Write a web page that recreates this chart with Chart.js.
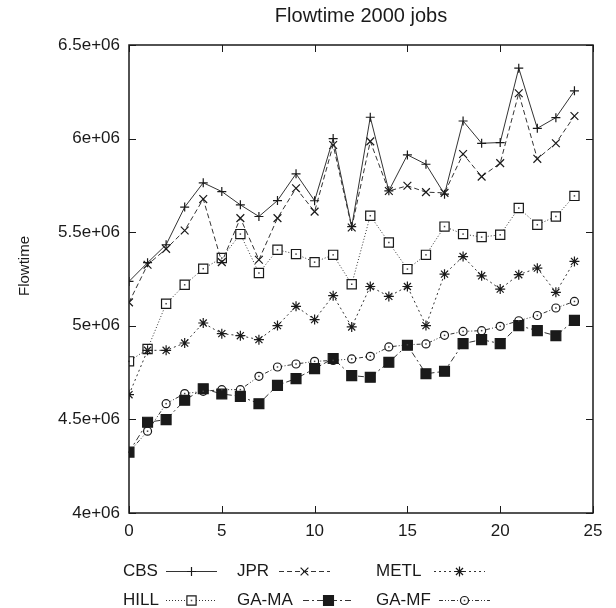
<!DOCTYPE html>
<html>
<head>
<meta charset="utf-8">
<title>Flowtime 2000 jobs</title>
<script src="https://cdn.jsdelivr.net/npm/chart.js@4.4.1/dist/chart.umd.min.js"></script>
<style>
    body { margin: 0; background: #fff; }
    canvas { display: block; }
</style>
</head>
<body>
<canvas id="flowChart" width="616" height="608"></canvas>
<script>
// run number on the x axis
const runs = [0, 1, 2, 3, 4, 5, 6, 7, 8, 9, 10, 11, 12, 13, 14, 15, 16, 17, 18, 19, 20, 21, 22, 23, 24];

// flowtime per heuristic
const cbs  = [5237000, 5337000, 5433000, 5634000, 5764000, 5717000, 5646000, 5584000, 5669000, 5812000, 5668000, 6000000, 5530000, 6114000, 5721000, 5913000, 5863000, 5703000, 6094000, 5975000, 5979000, 6376000, 6055000, 6112000, 6255000];
const jpr  = [5125000, 5326000, 5411000, 5509000, 5677000, 5340000, 5575000, 5353000, 5575000, 5735000, 5610000, 5966000, 5525000, 5985000, 5720000, 5748000, 5714000, 5710000, 5918000, 5797000, 5869000, 6242000, 5892000, 5975000, 6121000];
const metl = [4632000, 4869000, 4869000, 4908000, 5015000, 4958000, 4947000, 4926000, 5001000, 5104000, 5033000, 5161000, 4994000, 5210000, 5157000, 5210000, 5001000, 5276000, 5370000, 5267000, 5196000, 5273000, 5308000, 5179000, 5344000];
const hill = [4810000, 4876000, 5118000, 5219000, 5305000, 5362000, 5490000, 5282000, 5406000, 5383000, 5340000, 5379000, 5222000, 5588000, 5445000, 5303000, 5379000, 5530000, 5490000, 5474000, 5486000, 5629000, 5540000, 5584000, 5694000];
const gaMA = [4325000, 4485000, 4499000, 4602000, 4664000, 4636000, 4623000, 4584000, 4682000, 4718000, 4771000, 4825000, 4734000, 4725000, 4805000, 4896000, 4744000, 4757000, 4905000, 4926000, 4905000, 5001000, 4974000, 4947000, 5029000];
const gaMF = [4325000, 4437000, 4584000, 4638000, 4650000, 4659000, 4659000, 4730000, 4780000, 4796000, 4810000, 4815000, 4823000, 4837000, 4887000, 4899000, 4903000, 4949000, 4970000, 4974000, 4997000, 5027000, 5055000, 5095000, 5130000];

const seriesNames = ['CBS', 'JPR', 'METL', 'HILL', 'GA-MA', 'GA-MF'];
const xTickLabels = ['0', '5', '10', '15', '20', '25'];
const yTickLabels = ['4e+06', '4.5e+06', '5e+06', '5.5e+06', '6e+06', '6.5e+06'];

const INK = '#1a1a1a';
const FONT = '"Liberation Sans", Arial, sans-serif';
const NONE = 'rgba(0,0,0,0)';

const styles = [
    { dash: [],                 pointStyle: 'cross',    radius: 4.5, fill: NONE,   dot: false },
    { dash: [5, 3],             pointStyle: 'crossRot', radius: 5.5, fill: NONE,   dot: false },
    { dash: [2, 3],             pointStyle: 'star',     radius: 5,   fill: NONE,   dot: false },
    { dash: [1, 2],             pointStyle: 'rect',     radius: 6.5, fill: '#fff', dot: true },
    { dash: [6, 3, 2, 3],       pointStyle: 'rect',     radius: 7,   fill: INK,    dot: false },
    { dash: [4, 2, 1, 2, 1, 2], pointStyle: 'circle',   radius: 4,   fill: '#fff', dot: true }
];

const allValues = [cbs, jpr, metl, hill, gaMA, gaMF];

let datasets = allValues.map((values, i) => ({
    label: seriesNames[i],
    data: runs.map((r, k) => ({ x: r, y: values[k] })),
    borderColor: '#333',
    borderWidth: 1,
    borderDash: styles[i].dash,
    pointStyle: styles[i].pointStyle,
    pointRadius: styles[i].radius,
    pointBorderColor: INK,
    pointBackgroundColor: styles[i].fill,
    pointBorderWidth: 1.2,
    centerDot: styles[i].dot,
    tension: 0,
    fill: false
}));

function drawDot(ctx, x, y) {
    ctx.fillStyle = '#444';
    ctx.fillRect(x - 0.75, y - 0.75, 1.5, 1.5);
}

// small dot inside the hollow markers
const dotPlugin = {
    id: 'centerDots',
    afterDatasetsDraw(chart) {
        const ctx = chart.ctx;
        ctx.save();
        chart.data.datasets.forEach((ds, i) => {
            if (!ds.centerDot) return;
            chart.getDatasetMeta(i).data.forEach(pt => drawDot(ctx, pt.x, pt.y));
        });
        ctx.restore();
    }
};

// frame with inward ticks on all four sides
const framePlugin = {
    id: 'frame',
    afterDatasetsDraw(chart) {
        const { ctx, chartArea: a, scales } = chart;
        ctx.save();
        ctx.strokeStyle = INK;
        ctx.lineWidth = 1;
        ctx.setLineDash([]);
        const tick = 7;
        scales.x.ticks.forEach(t => {
            let px = Math.round(scales.x.getPixelForValue(t.value)) + 0.5;
            ctx.beginPath();
            ctx.moveTo(px, a.bottom); ctx.lineTo(px, a.bottom - tick);
            ctx.moveTo(px, a.top); ctx.lineTo(px, a.top + tick);
            ctx.stroke();
        });
        scales.y.ticks.forEach(t => {
            let py = Math.round(scales.y.getPixelForValue(t.value)) + 0.5;
            ctx.beginPath();
            ctx.moveTo(a.left, py); ctx.lineTo(a.left + tick, py);
            ctx.moveTo(a.right, py); ctx.lineTo(a.right - tick, py);
            ctx.stroke();
        });
        ctx.lineWidth = 1.5;
        ctx.strokeRect(a.left, a.top, a.right - a.left, a.bottom - a.top);
        ctx.restore();
    }
};

// plot title (centred over the plot area) and y axis caption
const captionPlugin = {
    id: 'captions',
    afterDraw(chart) {
        const { ctx, chartArea: a } = chart;
        ctx.save();
        ctx.fillStyle = INK;
        ctx.textAlign = 'center';
        ctx.textBaseline = 'middle';
        ctx.font = '20px ' + FONT;
        ctx.fillText('Flowtime 2000 jobs', (a.left + a.right) / 2, 16);
        ctx.translate(25, 266);
        ctx.rotate(-Math.PI / 2);
        ctx.font = '15px ' + FONT;
        ctx.fillText('Flowtime', 0, 0);
        ctx.restore();
    }
};

// key below the plot: two rows, three columns
const keySlots = [
    { tx: 123, lx: 166, y: 571 },
    { tx: 237, lx: 279, y: 571 },
    { tx: 376, lx: 434, y: 571 },
    { tx: 123, lx: 166, y: 600 },
    { tx: 237, lx: 303, y: 600 },
    { tx: 376, lx: 439, y: 600 }
];

const keyPlugin = {
    id: 'bottomKey',
    afterDraw(chart) {
        const ctx = chart.ctx;
        ctx.save();
        ctx.font = '17px ' + FONT;
        ctx.textBaseline = 'middle';
        ctx.textAlign = 'left';
        chart.data.datasets.forEach((ds, i) => {
            let s = keySlots[i];
            ctx.fillStyle = INK;
            ctx.fillText(ds.label, s.tx, s.y);
            ctx.strokeStyle = '#333';
            ctx.lineWidth = 1;
            ctx.setLineDash(ds.borderDash);
            ctx.beginPath();
            ctx.moveTo(s.lx, s.y + 0.5);
            ctx.lineTo(s.lx + 51, s.y + 0.5);
            ctx.stroke();
            ctx.setLineDash([]);
            ctx.strokeStyle = INK;
            ctx.fillStyle = ds.pointBackgroundColor;
            ctx.lineWidth = ds.pointBorderWidth;
            let mx = s.lx + 25.5, my = s.y + 0.5;
            Chart.helpers.drawPoint(ctx, {
                pointStyle: ds.pointStyle,
                radius: ds.pointRadius,
                rotation: 0,
                borderWidth: ds.pointBorderWidth
            }, mx, my);
            if (ds.centerDot) drawDot(ctx, mx, my);
        });
        ctx.restore();
    }
};

const ctx = document.getElementById('flowChart').getContext('2d');
new Chart(ctx, {
    type: 'line',
    data: { datasets: datasets },
    options: {
        responsive: false,
        animation: false,
        layout: {
            autoPadding: false,
            padding: { left: 0, right: 23, top: 45, bottom: 0 }
        },
        plugins: {
            legend: { display: false },
            tooltip: { enabled: false },
            title: { display: false }
        },
        scales: {
            x: {
                type: 'linear',
                min: 0,
                max: 25,
                grid: { display: false, drawTicks: false },
                border: { display: false },
                ticks: {
                    stepSize: 5,
                    padding: 8,
                    color: INK,
                    maxRotation: 0,
                    font: { family: FONT, size: 17 },
                    callback: (val, idx) => xTickLabels[idx]
                },
                afterFit: (scale) => { scale.height = 95; }
            },
            y: {
                min: 4000000,
                max: 6500000,
                grid: { display: false, drawTicks: false },
                border: { display: false },
                ticks: {
                    stepSize: 500000,
                    padding: 9,
                    color: INK,
                    font: { family: FONT, size: 17 },
                    callback: (val, idx) => yTickLabels[idx]
                },
                afterFit: (scale) => { scale.width = 129; }
            }
        }
    },
    plugins: [dotPlugin, framePlugin, captionPlugin, keyPlugin]
});
</script>
</body>
</html>
